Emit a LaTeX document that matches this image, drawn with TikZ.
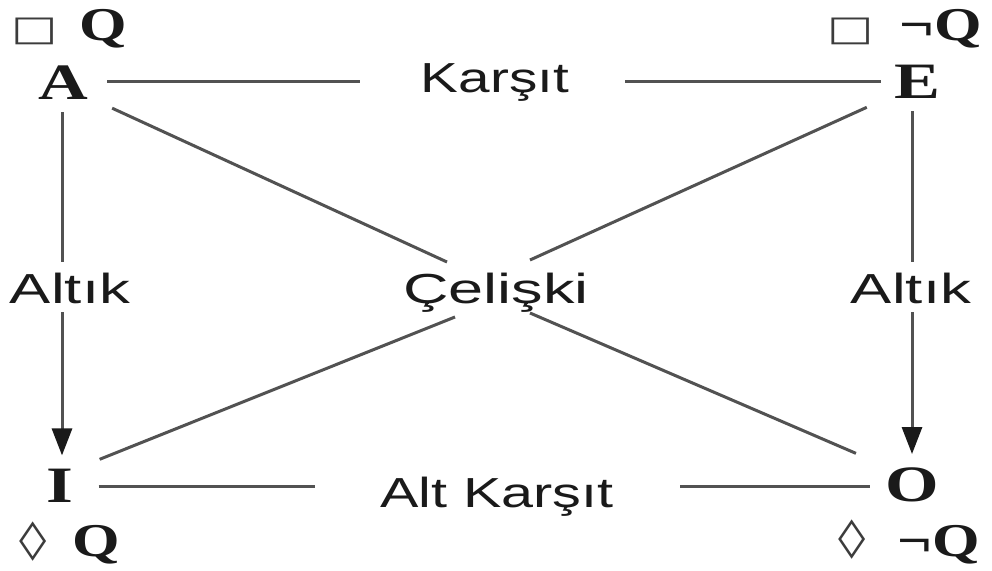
\documentclass[tikz,border=0pt]{standalone}
\usepackage{fontspec}
\setmainfont{Liberation Sans}
\newfontfamily\serifB{Liberation Serif}[BoldFont=Liberation Serif Bold]
\newfontfamily\symfont{DejaVu Sans}
\usetikzlibrary{arrows.meta,calc}
\definecolor{linegray}{HTML}{525252}
\definecolor{ink}{HTML}{1A1A1A}
\begin{document}
\begin{tikzpicture}[x=1pt,y=-1pt,
  corner/.style={font=\serifB\bfseries\fontsize{51}{56}\selectfont, text=ink, inner sep=0pt, anchor=base, xscale=1.35},
  qtext/.style={font=\serifB\bfseries\fontsize{47}{52}\selectfont, text=ink, inner sep=0pt, anchor=base, xscale=1.3},
  symb/.style={font=\symfont\fontsize{35}{40}\selectfont, text=ink!85, inner sep=0pt},
  rel/.style={font=\fontsize{42}{48}\selectfont, text=ink, inner sep=0pt, anchor=base},
  conn/.style={draw=linegray, line width=3pt},
  arr/.style={conn, -{Triangle[length=27pt,width=20pt,color=ink]}}
]
\useasboundingbox (0,0) rectangle (992,570);
\fill[white] (0,0) rectangle (992,570);

% corner letters
\node[corner] (A) at (63,99) {A};
\node[corner] (E) at (917,98) {E};
\node[corner] (I) at (60,502) {I};
\node[corner] (O) at (912,501) {O};

% modal formulas
\node[symb, xscale=1.4] (bA) at (35,31) {□};
\node[qtext] (qA) at (103,40) {Q};
\node[symb, xscale=1.4] (bE) at (851,31) {□};
\node[qtext] (qE) at (941,40) {¬Q};
\node[symb, font=\symfont\fontsize{38}{42}\selectfont, xscale=1.45] (dI) at (33,542) {◊};
\node[qtext] (qI) at (96,556) {Q};
\node[symb, font=\symfont\fontsize{38}{42}\selectfont, xscale=1.45] (dO) at (852,540) {◊};
\node[qtext] (qO) at (939,556) {¬Q};

% relation labels
\node[rel, xscale=1.35] (kar) at (495,92) {Karşıt};
\node[rel, xscale=1.37] (alk) at (497,507) {Alt Karşıt};
\node[rel, xscale=1.47] (altL) at (70,303) {Altık};
\node[rel, xscale=1.47] (altR) at (911,303) {Altık};
\node[rel, xscale=1.5] (cel) at (496,303) {Çelişki};

% gap coordinates
\coordinate (kL) at (360,81);
\coordinate (kR) at (625,81);
\coordinate (bL) at (315,486);
\coordinate (bR) at (680,486);
\coordinate (cA) at (447,262);
\coordinate (cE) at (530,260);
\coordinate (cI) at (455,317);
\coordinate (cO) at (530,313);
\coordinate (vL1) at (62,262);
\coordinate (vL2) at (62,312);
\coordinate (vR1) at (912,262);
\coordinate (vR2) at (912,312);

% top and bottom (contraries / subcontraries)
\draw[conn] ($(A.east |- kL)+(19,0)$) -- (kL);
\draw[conn] (kR) -- ($(E.west |- kR)+(-13,0)$);
\draw[conn] ($(I.east |- bL)+(25,0)$) -- (bL);
\draw[conn] (bR) -- ($(O.west |- bR)+(-15,0)$);

% contradictions
\draw[conn] ($(A.east)+(24,26)$) -- (cA);
\draw[conn] ($(E.west)+(-27,26)$) -- (cE);
\draw[conn] ($(I.east)+(26,-26)$) -- (cI);
\draw[conn] ($(O.west)+(-29,-31)$) -- (cO);

% subalternation
\draw[conn] ($(A.south -| vL1)+(0,13)$) -- (vL1);
\draw[arr] (vL2) -- ($(I.north -| vL2)+(0,-13)$);
\draw[conn] ($(E.south -| vR1)+(0,13)$) -- (vR1);
\draw[arr] (vR2) -- ($(O.north -| vR2)+(0,-13)$);
\end{tikzpicture}
\end{document}
